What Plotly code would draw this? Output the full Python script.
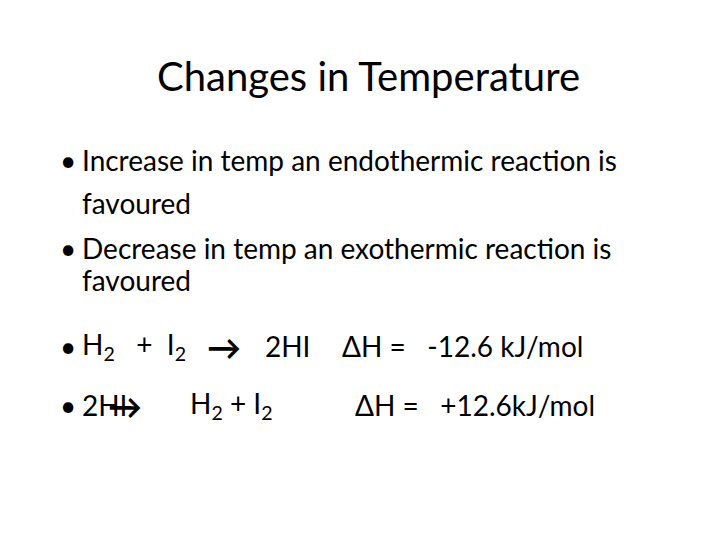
import plotly.graph_objects as go

title = "Changes in Temperature"
bullet_lines = [
    "Increase in temp an endothermic reaction is",
    "favoured",
    "Decrease in temp an exothermic reaction is",
    "favoured",
]
bullet_y = [152, 195, 240, 272]
has_bullet = [True, False, True, False]
reaction1 = ["H<sub>2</sub>   +  I<sub>2</sub>", "<b>→</b>", "2HI", "ΔH =   -12.6 kJ/mol"]
reaction2 = ["2HI", "<b>→</b>", "H<sub>2</sub> + I<sub>2</sub>", "ΔH =   +12.6kJ/mol"]

font = "Lato, Open Sans, sans-serif"
fig = go.Figure()
fig.update_layout(
    width=720, height=540, margin=dict(l=0, r=0, t=0, b=0),
    paper_bgcolor="white", plot_bgcolor="white", showlegend=False,
    xaxis=dict(range=[0, 720], visible=False),
    yaxis=dict(range=[540, 0], visible=False),
)


def add(text, x, y, size, anchor="left"):
    fig.add_annotation(text=text, x=x, y=y, xref="x", yref="y", showarrow=False,
                       xanchor=anchor, yanchor="middle",
                       font=dict(family=font, size=size, color="black"))


add(title, 360, 68, 40, "center")
for line, y, b in zip(bullet_lines, bullet_y, has_bullet):
    if b:
        add("•", 50, y, 28)
    add(line, 72, y, 28)

add("•", 50, 338, 28)
for txt, x in zip(reaction1, [72, 197, 255, 332]):
    add(txt, x, 338, 28 if txt != "<b>→</b>" else 34)
add("•", 50, 397, 28)
for txt, x in zip(reaction2, [72, 98, 180, 345]):
    add(txt, x, 397, 28 if txt != "<b>→</b>" else 34)

fig.write_html("out.html")
